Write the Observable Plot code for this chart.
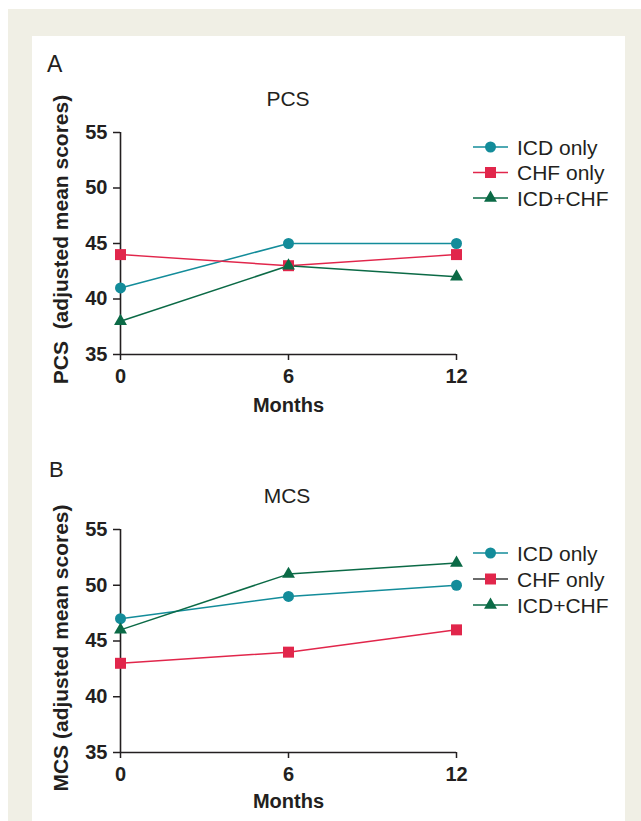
<!DOCTYPE html>
<html><head><meta charset="utf-8">
<script src="https://cdn.jsdelivr.net/npm/d3@7"></script>
<script src="https://cdn.jsdelivr.net/npm/@observablehq/plot@0.6"></script>
<style>
body{margin:0;background:#fff;}
#page{position:relative;width:641px;height:821px;overflow:hidden;font-family:"Liberation Sans",Arial,Helvetica,sans-serif;color:#231f20}
#beige{position:absolute;left:8px;top:9px;right:0;bottom:0;background:#f0efe5}
#panel{position:absolute;left:32px;top:36px;width:593px;bottom:0;background:#fff}
.plot{position:absolute;left:0}
#overlay{position:absolute;left:0;top:0}
</style></head><body><div id="page"><div id="beige"></div><div id="panel"></div></div>
<script>
const months = [0, 6, 12];
const groups = ["ICD only", "CHF only", "ICD+CHF"];
const pcsICD = [41, 45, 45];
const pcsCHF = [44, 43, 44];
const pcsBoth = [38, 43, 42];
const mcsICD = [47, 49, 50];
const mcsCHF = [43, 44, 46];
const mcsBoth = [46, 51, 52];
const yTicks = [35, 40, 45, 50, 55];
const xTicks = [0, 6, 12];
const colors = ["#138c9a", "#e1264b", "#0b6a46"];
const symbols = ["circle", "square", "triangle"];
const symR = [5.5, 6.2, 4.8];
const ink = "#231f20";
const font = "Liberation Sans, Arial, Helvetica, sans-serif";

const page = document.getElementById("page");

function chart(series, opts) {
  const rows = [];
  series.forEach((vals, i) => vals.forEach((v, j) => rows.push({group: groups[i], month: months[j], value: v})));
  const svg = Plot.plot({
    width: 641, height: opts.height,
    marginLeft: 120, marginRight: 185, marginTop: opts.marginTop, marginBottom: opts.marginBottom,
    style: {fontFamily: font, fontSize: "20px", fontWeight: "bold", color: ink, background: "transparent", overflow: "visible"},
    x: {domain: [0, 12]},
    y: {domain: [35, 55]},
    color: {domain: groups, range: colors},
    marks: [
      Plot.axisY({ticks: yTicks, tickSize: 7, tickPadding: 6, strokeWidth: 1.5, label: null}),
      Plot.axisX({ticks: xTicks, tickSize: 6, tickPadding: 8, strokeWidth: 1.5, label: "Months", labelAnchor: "center", labelOffset: opts.xLabelOffset, labelArrow: false}),
      Plot.ruleX([0], {stroke: ink, strokeWidth: 1.6}),
      Plot.ruleY([35], {stroke: ink, strokeWidth: 1.6}),
      Plot.text([opts.ylabel], {frameAnchor: "left", rotate: -90, dx: -67, dy: opts.yLabelDy, lineAnchor: "top", textAnchor: "middle", fontSize: 21, fontWeight: "bold", fill: ink}),
      Plot.line(rows, {x: "month", y: "value", z: "group", stroke: "group", strokeWidth: 1.5}),
      ...groups.map((g, i) => Plot.dot(rows.filter(d => d.group === g), {x: "month", y: "value", symbol: symbols[i], r: symR[i], fill: colors[i], stroke: "none"}))
    ]
  });
  svg.classList.add("plot");
  svg.style.top = opts.top + "px";
  page.appendChild(svg);
}

chart([pcsICD, pcsCHF, pcsBoth], {top: 40, height: 380, marginTop: 92, marginBottom: 66, xLabelOffset: 57, ylabel: "PCS\u00a0 (adjusted mean scores)", yLabelDy: -4});
chart([mcsICD, mcsCHF, mcsBoth], {top: 440, height: 381, marginTop: 89, marginBottom: 69, xLabelOffset: 55, ylabel: "MCS (adjusted mean scores)", yLabelDy: 7});

// overlay: panel letters, titles, legends
const ov = d3.select(page).append("svg").attr("id", "overlay").attr("width", 641).attr("height", 821)
  .style("font-family", font).style("fill", ink);
const titles = [
  {t: "A", x: 47, y: 72, size: 23, anchor: "start"},
  {t: "PCS", x: 288, y: 106, size: 21, anchor: "middle"},
  {t: "B", x: 49, y: 477, size: 22, anchor: "start"},
  {t: "MCS", x: 287, y: 503, size: 21, anchor: "middle"}
];
titles.forEach(d => ov.append("text").attr("x", d.x).attr("y", d.y).attr("font-size", d.size).attr("text-anchor", d.anchor).attr("fill", ink).text(d.t));

function legend(rowsY, lineColors) {
  groups.forEach((g, i) => {
    const y = rowsY[i];
    ov.append("line").attr("x1", 473).attr("x2", 508).attr("y1", y).attr("y2", y).attr("stroke", lineColors[i]).attr("stroke-width", 1.5);
    ov.append("path").attr("transform", `translate(490.5,${y})`)
      .attr("d", d3.symbol(symbols[i] === "circle" ? d3.symbolCircle : symbols[i] === "square" ? d3.symbolSquare : d3.symbolTriangle, Math.PI * symR[i] * symR[i])())
      .attr("fill", colors[i]);
    ov.append("text").attr("x", 517).attr("y", y + 7.5).attr("font-size", 21).attr("fill", ink).text(g);
  });
}
legend([147, 172.5, 198], colors);
legend([553, 579, 605], [colors[0], "#3a3a3a", colors[2]]);
</script></body></html>
